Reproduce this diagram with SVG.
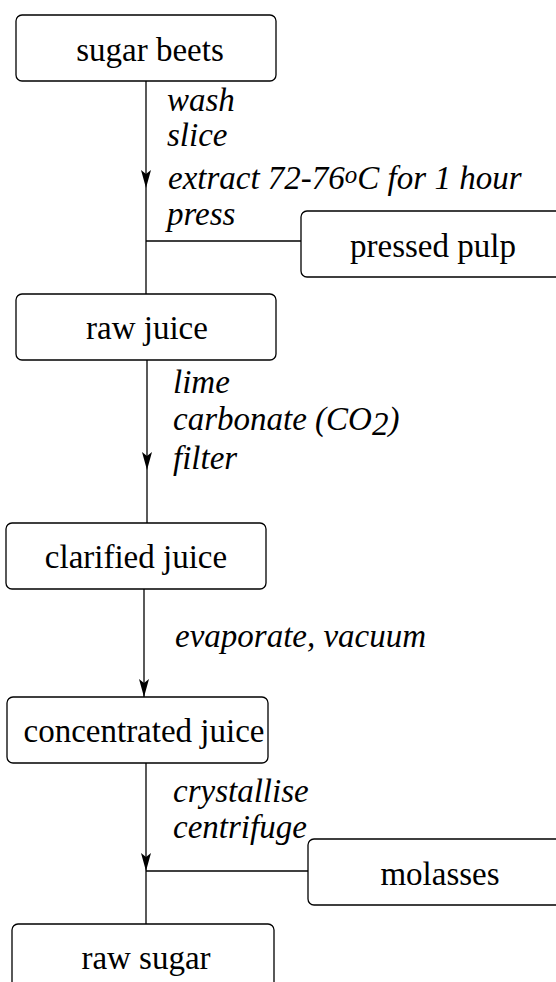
<svg xmlns="http://www.w3.org/2000/svg" width="556" height="982" viewBox="0 0 556 982">
<style>
.box{fill:#fff;stroke:#000;stroke-width:1.3}
.t{font-family:"Liberation Serif","Times New Roman",serif;font-size:33px;fill:#000;text-anchor:middle}
.l{font-family:"Liberation Serif","Times New Roman",serif;font-size:33px;font-style:italic;fill:#000}
.c{stroke:#000;stroke-width:1.3;fill:none}
.ah{fill:#000;stroke:none}
</style>
<rect width="556" height="982" fill="#fff"/>
<g id="connectors">
<line class="c" x1="146" y1="81" x2="146" y2="294"/>
<line class="c" x1="146" y1="241" x2="301" y2="241"/>
<path class="ah" d="M146 188 L141 170 L146 174 L151 170 Z"/>
<line class="c" x1="147" y1="360" x2="147" y2="523"/>
<path class="ah" d="M147 470 L142 452 L147 456 L152 452 Z"/>
<line class="c" x1="144" y1="589" x2="144" y2="697"/>
<path class="ah" d="M144 697 L139 679 L144 683 L149 679 Z"/>
<line class="c" x1="146" y1="763" x2="146" y2="924"/>
<line class="c" x1="146" y1="871" x2="308" y2="871"/>
<path class="ah" d="M146 871 L141 853 L146 857 L151 853 Z"/>
<text class="l" x="167" y="111">wash</text>
<text class="l" x="167" y="146">slice</text>
<text class="l" x="168" y="189">extract 72-76<tspan font-size="25" dy="-6">o</tspan><tspan dy="6">C for 1 hour</tspan></text>
<text class="l" x="167" y="225">press</text>
<text class="l" x="173" y="393">lime</text>
<text class="l" x="173" y="430">carbonate (CO<tspan dy="5">2</tspan><tspan dy="-5">)</tspan></text>
<text class="l" x="173" y="469">filter</text>
<text class="l" x="175" y="647">evaporate, vacuum</text>
<text class="l" x="173" y="802">crystallise</text>
<text class="l" x="173" y="838">centrifuge</text>
</g>
<g id="sugar-beets"><rect class="box" x="16" y="15" width="260" height="66" rx="6"/><text class="t" x="150" y="61">sugar beets</text></g>
<g id="pressed-pulp"><rect class="box" x="301" y="211" width="270" height="66" rx="6"/><text class="t" x="433" y="257">pressed pulp</text></g>
<g id="raw-juice"><rect class="box" x="16" y="294" width="260" height="66" rx="6"/><text class="t" x="147" y="339">raw juice</text></g>
<g id="clarified-juice"><rect class="box" x="6" y="523" width="260" height="66" rx="6"/><text class="t" x="136" y="568">clarified juice</text></g>
<g id="concentrated-juice"><rect class="box" x="7" y="697" width="261" height="66" rx="6"/><text class="t" x="144" y="742">concentrated juice</text></g>
<g id="molasses"><rect class="box" x="308" y="839" width="270" height="66" rx="6"/><text class="t" x="440" y="885">molasses</text></g>
<g id="raw-sugar"><rect class="box" x="12" y="924" width="262" height="66" rx="6"/><text class="t" x="146" y="969">raw sugar</text></g>
</svg>
